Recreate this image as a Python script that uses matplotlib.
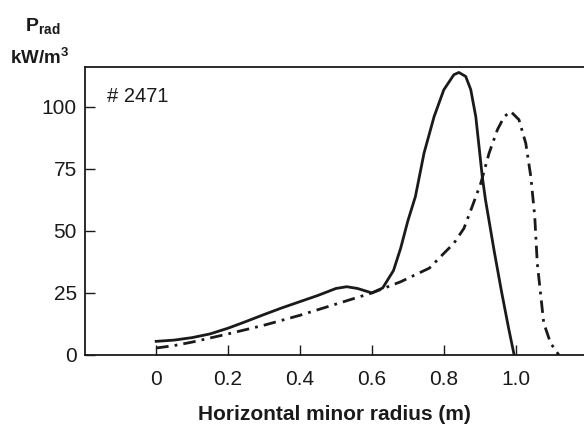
import matplotlib
matplotlib.use("Agg")
import matplotlib.pyplot as plt

plt.rcParams["font.family"] = ["Liberation Sans", "DejaVu Sans"]

# solid curve
r_solid = [0.0, 0.05, 0.1, 0.15, 0.2, 0.25, 0.3, 0.35, 0.4, 0.45, 0.5, 0.53,
           0.56, 0.6, 0.63, 0.66, 0.68, 0.70, 0.721, 0.745, 0.773, 0.80,
           0.828, 0.842, 0.861, 0.875, 0.889, 0.898, 0.907, 0.916, 0.94,
           0.96, 0.98, 0.995]
p_solid = [5.5, 6.0, 7.0, 8.5, 10.8, 13.5, 16.3, 19.0, 21.5, 24.0, 26.8, 27.5,
           26.8, 25.0, 27.0, 34.0, 43.0, 54.0, 63.8, 81.3, 96.0, 106.8,
           112.9, 113.8, 112.2, 106.9, 96.0, 84.0, 71.9, 62.5, 42.0,
           26.0, 11.0, 0.5]

# dash-dot curve
r_dash = [0.0, 0.05, 0.1, 0.2, 0.3, 0.4, 0.5, 0.6, 0.68, 0.76, 0.791, 0.828,
          0.856, 0.879, 0.903, 0.926, 0.949, 0.968, 0.986, 1.009, 1.028,
          1.042, 1.053, 1.060, 1.078, 1.097, 1.12]
p_dash = [2.8, 3.8, 5.2, 8.5, 12.0, 16.0, 20.5, 25.0, 29.5, 35.0, 39.6, 45.0,
          51.0, 59.8, 69.2, 81.3, 90.7, 96.0, 98.1, 94.8, 85.3,
          71.9, 55.8, 37.0, 12.9, 4.8, 0.0]

x_ticks = [0, 0.2, 0.4, 0.6, 0.8, 1.0]
x_labels = ["0", "0.2", "0.4", "0.6", "0.8", "1.0"]
y_ticks = [0, 25, 50, 75, 100]

fig = plt.figure(figsize=(5.84, 4.28), dpi=100)
ax = fig.add_axes([85 / 584, 73 / 428, 1 - 85 / 584, 288 / 428])

ax.plot(r_solid, p_solid, color="#1a1a1a", lw=2.0, solid_joinstyle="round")
ax.plot(r_dash, p_dash, color="#1a1a1a", lw=2.0, dashes=(4.5, 2.2, 1.0, 2.2),
        dash_joinstyle="round")

ax.set_xlim(-0.198, 1.19)
ax.set_ylim(0, 116)
ax.spines["right"].set_visible(False)
for s in ["left", "bottom", "top"]:
    ax.spines[s].set_linewidth(1.3)
    ax.spines[s].set_color("#1a1a1a")

ax.set_xticks(x_ticks)
ax.set_xticklabels(x_labels)
ax.set_yticks(y_ticks)
ax.tick_params(direction="in", length=7, width=1.0, labelsize=15,
               colors="#1a1a1a", pad=6)
ax.tick_params(axis="x", pad=11)

ax.set_xlabel("Horizontal minor radius (m)", fontsize=15, fontweight="bold",
              labelpad=11, color="#1a1a1a")
ax.text(0.045, 0.93, "# 2471", transform=ax.transAxes, fontsize=14.5,
        va="top", ha="left", color="#1a1a1a")

fig.text(25 / 584, 1 - 27 / 428, r"P$_{\mathregular{rad}}$", fontsize=14,
         fontweight="bold", ha="left", va="center", color="#1a1a1a")
fig.text(10 / 584, 1 - 58 / 428, r"kW/m$^{\mathregular{3}}$", fontsize=13.5,
         fontweight="bold", ha="left", va="center", color="#1a1a1a")

fig.savefig("out.png", dpi=100)
